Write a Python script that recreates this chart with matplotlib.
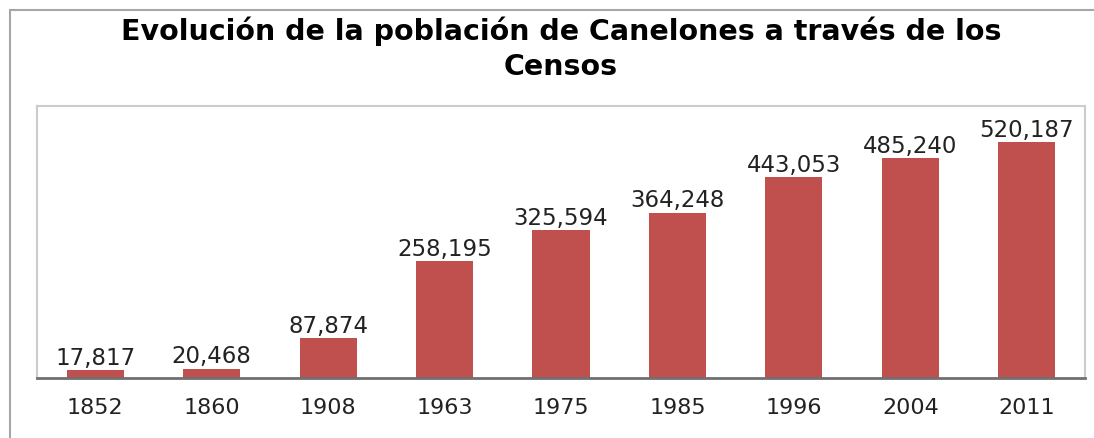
import numpy as np
import matplotlib.pyplot as plt
from matplotlib.patches import Rectangle

# census years and population
years = ['1852', '1860', '1908', '1963', '1975', '1985', '1996', '2004', '2011']
population = [17817, 20468, 87874, 258195, 325594, 364248, 443053, 485240, 520187]

bar_color = '#C0504D'

fig = plt.figure(figsize=(10.94, 4.39), dpi=100)

# outer chart frame (runs off the right/bottom edge like the original)
fig.patches.append(Rectangle((10 / 1094, -0.2), 1.2, 1.2 - 11 / 439,
                             transform=fig.transFigure, fill=False,
                             edgecolor='#a6a6a6', linewidth=1.5))

ax = fig.add_axes([37 / 1094, 1 - 379 / 439, (1085 - 37) / 1094, (379 - 107) / 439])

x = np.arange(len(years))
ax.bar(x, population, width=0.49, color=bar_color, zorder=2)

for xi, v in zip(x, population):
    ax.annotate(f'{v:,}', (xi, v), xytext=(0, 1), textcoords='offset points',
                ha='center', va='bottom', fontsize=16.5, color='#222222')

ax.set_xlim(-0.5, len(years) - 0.5)
ax.set_ylim(0, 600000)
ax.set_xticks(x)
ax.set_xticklabels(years, fontsize=16, color='#222222')
ax.set_yticks([])
ax.tick_params(axis='x', length=0, pad=14)

for side in ['left', 'top', 'right']:
    ax.spines[side].set_color('#cccccc')
    ax.spines[side].set_linewidth(1.5)
ax.spines['bottom'].set_color('#707070')
ax.spines['bottom'].set_linewidth(2)

# title in two lines
fig.text(561 / 1094, 1 - 40 / 439, 'Evolución de la población de Canelones a través de los',
         ha='center', va='baseline', fontsize=20.5, fontweight='bold')
fig.text(561 / 1094, 1 - 75 / 439, 'Censos',
         ha='center', va='baseline', fontsize=20.5, fontweight='bold')

fig.savefig('out.png', dpi=100)
